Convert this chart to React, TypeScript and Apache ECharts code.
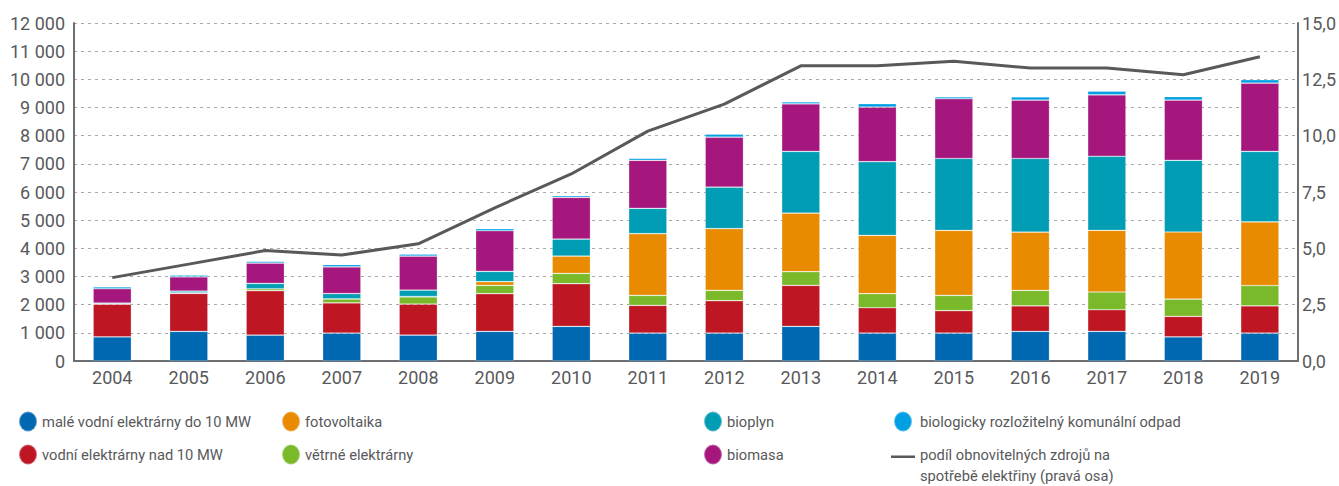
import React, { useEffect, useRef } from "react";
import * as echarts from "echarts";

const years = ["2004","2005","2006","2007","2008","2009","2010","2011","2012","2013","2014","2015","2016","2017","2018","2019"];
const smallHydro = [860, 1050, 920, 990, 920, 1050, 1230, 990, 990, 1230, 990, 990, 1050, 1050, 860, 990];
const largeHydro = [1160, 1350, 1575, 1075, 1100, 1340, 1515, 985, 1150, 1455, 900, 795, 910, 770, 725, 970];
const wind = [10, 20, 70, 140, 260, 295, 365, 355, 370, 485, 500, 545, 545, 630, 615, 720];
const pv = [0, 0, 0, 0, 10, 130, 615, 2190, 2190, 2080, 2070, 2305, 2070, 2190, 2380, 2260];
const biogas = [30, 60, 190, 190, 225, 365, 605, 900, 1470, 2190, 2615, 2555, 2615, 2630, 2545, 2500];
const biomass = [505, 510, 720, 945, 1205, 1445, 1480, 1705, 1775, 1690, 1940, 2120, 2070, 2180, 2140, 2425];
const waste = [70, 60, 60, 85, 70, 70, 60, 70, 105, 70, 120, 70, 120, 130, 120, 120];
const share = [3.7, 4.3, 4.9, 4.7, 5.2, 6.8, 8.3, 10.2, 11.4, 13.1, 13.1, 13.3, 13.0, 13.0, 12.7, 13.5];

const N_SMALL = "malé vodní elektrárny do 10 MW";
const N_LARGE = "vodní elektrárny nad 10 MW";
const N_PV = "fotovoltaika";
const N_WIND = "větrné elektrárny";
const N_BIOGAS = "bioplyn";
const N_BIOMASS = "biomasa";
const N_WASTE = "biologicky rozložitelný komunální odpad";
const N_SHARE = "podíl obnovitelných zdrojů na\nspotřebě elektřiny (pravá osa)";

const TEXT = "#58595b";
const FONT = "Roboto";
const ELLIPSE = "path://M9,0 A9,10 0 1,1 9,20 A9,10 0 1,1 9,0 Z";
const LINEICON = "path://M0,0 L24,0 L24,2.6 L0,2.6 Z M0,20 L24,20";

export default function App() {
  const ref = useRef<HTMLDivElement>(null);
  useEffect(() => {
    if (!ref.current) return;
    const chart = echarts.init(ref.current, null, { renderer: "svg" });
    const legendText = { color: TEXT, fontFamily: FONT, fontSize: 14.7, lineHeight: 21 };
    const legendBase = {
      orient: "vertical",
      top: 410.5,
      height: 100,
      padding: 0,
      itemWidth: 18,
      itemHeight: 20,
      itemGap: 11,
      icon: ELLIPSE,
      textStyle: legendText,
      selectedMode: false,
    };
    const bar = (name: string, data: number[], color: string) => ({
      name,
      type: "bar",
      stack: "total",
      barWidth: "50%",
      data,
      itemStyle: { color, borderColor: "rgba(255,255,255,0.35)", borderWidth: 0.7 },
    });
    chart.setOption({
      animation: false,
      grid: { left: 74, right: 40, top: 23, bottom: 125 },
      legend: [
        { ...legendBase, left: 18, data: [N_SMALL, N_LARGE] },
        { ...legendBase, left: 281, data: [N_PV, N_WIND] },
        { ...legendBase, left: 703, data: [N_BIOGAS, N_BIOMASS] },
        {
          ...legendBase,
          left: 891,
          itemWidth: 24,
          itemGap: 12,
          data: [
            { name: N_WASTE, icon: ELLIPSE },
            { name: N_SHARE, icon: LINEICON, itemStyle: { color: "#58595b", borderWidth: 0 } },
          ],
        },
      ],
      xAxis: {
        type: "category",
        data: years,
        axisLine: { lineStyle: { color: "#6d6e71", width: 2 } },
        axisTick: { show: false },
        axisLabel: { color: TEXT, fontFamily: FONT, fontSize: 18, margin: 7 },
      },
      yAxis: [
        {
          type: "value",
          min: 0,
          max: 12000,
          interval: 1000,
          axisLine: { show: true, lineStyle: { color: "#6d6e71", width: 2 } },
          axisTick: { show: false },
          axisLabel: {
            color: TEXT,
            fontFamily: FONT,
            fontSize: 18,
            margin: 9,
            formatter: (v: number) => String(v).replace(/\B(?=(\d{3})+(?!\d))/g, " "),
          },
          splitLine: { show: true, lineStyle: { color: "#a7a9ac", type: [3, 4], width: 1 } },
        },
        {
          type: "value",
          min: 0,
          max: 15,
          interval: 2.5,
          position: "right",
          axisLine: { show: true, lineStyle: { color: "#6d6e71", width: 2 } },
          axisTick: { show: false },
          axisLabel: {
            color: TEXT,
            fontFamily: FONT,
            fontSize: 18,
            margin: 4,
            formatter: (v: number) => v.toFixed(1).replace(".", ","),
          },
          splitLine: { show: false },
        },
      ],
      series: [
        bar(N_SMALL, smallHydro, "#0067b1"),
        bar(N_LARGE, largeHydro, "#be1622"),
        bar(N_WIND, wind, "#7ab929"),
        bar(N_PV, pv, "#e98b00"),
        bar(N_BIOGAS, biogas, "#009db4"),
        bar(N_BIOMASS, biomass, "#a6177e"),
        bar(N_WASTE, waste, "#009fe3"),
        {
          name: N_SHARE,
          type: "line",
          yAxisIndex: 1,
          data: share,
          symbol: "none",
          z: 5,
          lineStyle: { color: "#58595b", width: 3 },
          itemStyle: { color: "#58595b" },
        },
      ],
    });
    return () => chart.dispose();
  }, []);
  return <div ref={ref} style={{ position: "absolute", left: 0, top: 0, width: 1339, height: 486 }} />;
}
